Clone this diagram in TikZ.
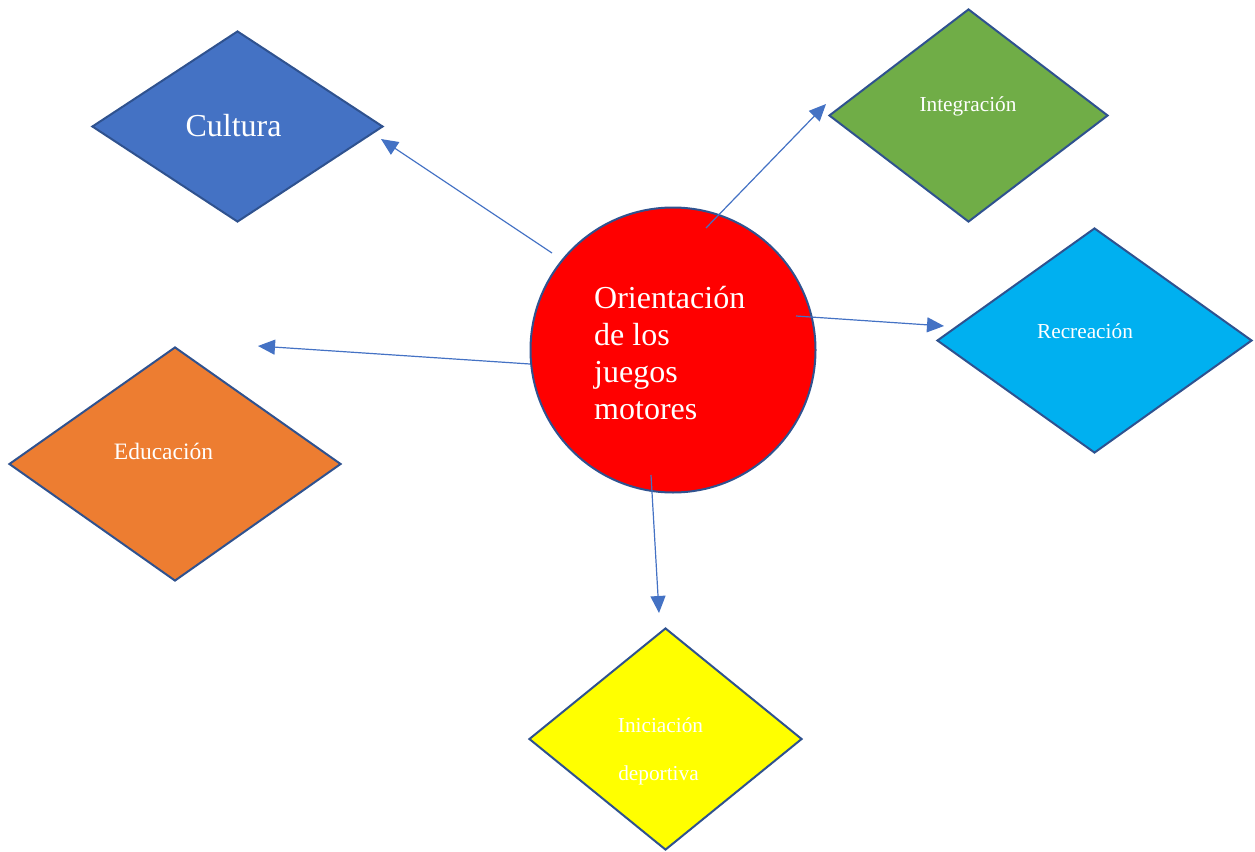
\documentclass[tikz,border=0pt]{standalone}
\usepackage{fontspec}
\setmainfont{Liberation Serif}
\usetikzlibrary{arrows.meta,shapes.geometric}
\definecolor{edgeblue}{HTML}{2F528F}
\definecolor{arrowblue}{HTML}{4472C4}
\definecolor{cultblue}{HTML}{4472C4}
\definecolor{intgreen}{HTML}{70AD47}
\definecolor{reccyan}{HTML}{00B0F0}
\definecolor{eduorange}{HTML}{ED7D31}
\definecolor{inired}{HTML}{FF0000}
\definecolor{iniyellow}{HTML}{FFFF00}
\tikzset{
  rhomb/.style={diamond, draw=edgeblue, line width=2pt, inner sep=0pt},
  hub/.style={circle, draw=edgeblue, fill=inired, line width=2pt, inner sep=0pt, minimum size=285pt},
  bigtxt/.style={text=white, font=\fontsize{32}{37}\selectfont, inner sep=0pt},
  smalltxt/.style={text=white, font=\fontsize{21.3}{25}\selectfont, inner sep=0pt},
  link/.style={draw=arrowblue, line width=1.2pt, -{Triangle[length=17pt,width=15pt]}}
}
\begin{document}
\begin{tikzpicture}[x=1pt,y=-1pt]
  \useasboundingbox (0,0) rectangle (1255,851);

  % category diamonds
  \node[rhomb, fill=cultblue, minimum width=291pt, minimum height=191pt] (cultura) at (237.5,126.5) {};
  \node[rhomb, fill=intgreen, minimum width=279pt, minimum height=213pt] (integracion) at (968.5,115.5) {};
  \node[rhomb, fill=reccyan, minimum width=315pt, minimum height=225pt] (recreacion) at (1094.5,340.5) {};
  \node[rhomb, fill=eduorange, minimum width=332pt, minimum height=234pt] (educacion) at (175,464) {};
  \node[rhomb, fill=iniyellow, minimum width=273pt, minimum height=222pt] (iniciacion) at (665.5,739) {};

  % central circle
  \node[hub] (centro) at (673,350) {};

  % labels
  \node[bigtxt] (tcultura) at (233.5,126) {Cultura};
  \node[smalltxt] (tintegracion) at (968,106) {Integración};
  \node[smalltxt] (trecreacion) at (1085,331) {Recreación};
  \node[smalltxt, font=\fontsize{23.5}{27}\selectfont] (teducacion) at (163.5,451) {Educación};
  \node[smalltxt] (tini1) at (660.5,725) {Iniciación};
  \node[smalltxt] (tini2) at (658.5,775) {deportiva};
  \node[bigtxt, anchor=north west, align=left] (tcentro) at (594,286) {Orientación\\de los\\juegos\\motores};

  % connector end points
  \coordinate (sc) at (552,253);  \coordinate (ec) at (381,139);
  \coordinate (si) at (706,228);  \coordinate (ei) at (826,104);
  \coordinate (sr) at (796,316);  \coordinate (er) at (944,326);
  \coordinate (se) at (530,364);  \coordinate (ee) at (258,346);
  \coordinate (sd) at (651,475);  \coordinate (ed) at (659,613);

  % connectors
  \draw[link] (sc) -- (ec);
  \draw[link] (si) -- (ei);
  \draw[link] (sr) -- (er);
  \draw[link] (se) -- (ee);
  \draw[link] (sd) -- (ed);
\end{tikzpicture}
\end{document}
